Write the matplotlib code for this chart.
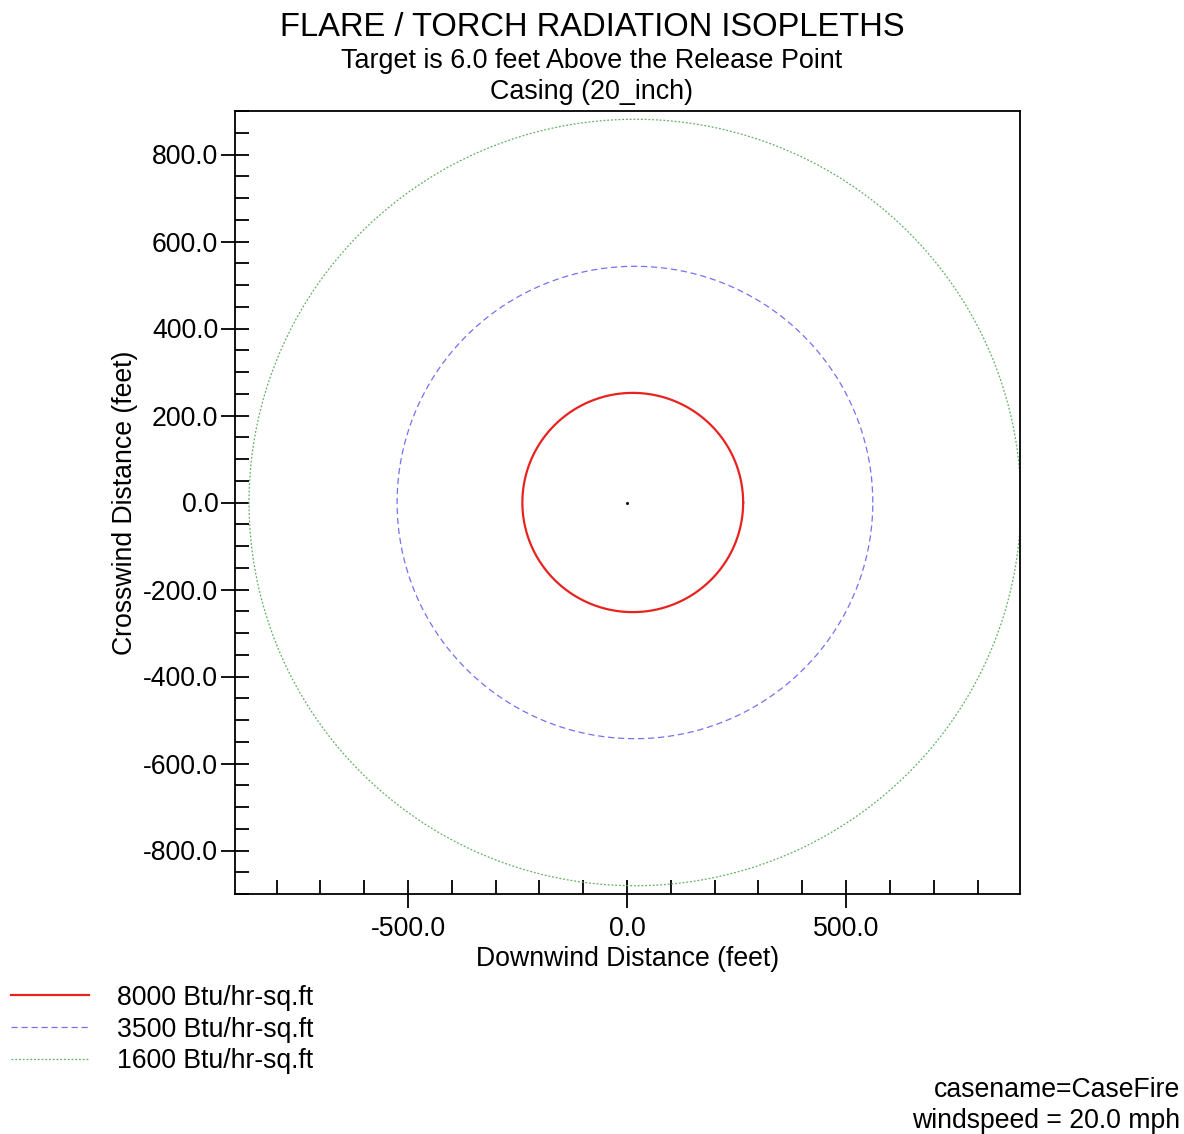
import numpy as np
import matplotlib
matplotlib.use('Agg')
import matplotlib.pyplot as plt
from matplotlib.ticker import MultipleLocator, FixedLocator, FormatStrFormatter

plt.rcParams['font.family'] = ['Liberation Sans', 'DejaVu Sans']
plt.rcParams['axes.unicode_minus'] = False

# Isopleth data (feet)
levels = ['8000 Btu/hr-sq.ft', '3500 Btu/hr-sq.ft', '1600 Btu/hr-sq.ft']
center_x = [13, 18, 18]
radius = [252, 543, 881]
colors = ['#e8231f', '#7373f0', '#62b062']
styles = ['-', (0, (5, 3)), (0, (1.5, 1.5))]
widths = [1.6, 0.9, 0.9]

fig = plt.figure(figsize=(11.84, 11.34), dpi=100)
ax = fig.add_axes([235 / 1184, 1 - 894 / 1134, 785 / 1184, 783 / 1134])

theta = np.linspace(0, 2 * np.pi, 721)
for lab, cx, r, c, ls, lw in zip(levels, center_x, radius, colors, styles, widths):
    ax.plot(cx + r * np.cos(theta), r * np.sin(theta), color=c, linestyle=ls, lw=lw, label=lab)

# release point
ax.plot([0], [0], marker='s', ms=1.0, color='black', ls='none')

ax.set_xlim(-895, 897)
ax.set_ylim(-900, 900)

ax.xaxis.set_major_locator(FixedLocator([-500, 0, 500]))
ax.xaxis.set_minor_locator(MultipleLocator(100))
ax.yaxis.set_major_locator(MultipleLocator(200))
ax.yaxis.set_minor_locator(MultipleLocator(50))
ax.xaxis.set_major_formatter(FormatStrFormatter('%.1f'))
ax.yaxis.set_major_formatter(FormatStrFormatter('%.1f'))

ax.tick_params(which='major', direction='inout', length=20, width=1.3, labelsize=19.2)
ax.tick_params(axis='x', which='major', pad=6)
ax.tick_params(axis='y', which='major', pad=2)
ax.tick_params(which='minor', direction='in', length=10, width=1.3)
ax.tick_params(top=False, right=False, which='both')
for s in ax.spines.values():
    s.set_linewidth(1.3)

ax.set_xlabel('Downwind Distance (feet)', fontsize=19.2, labelpad=3)
ax.set_ylabel('Crosswind Distance (feet)', fontsize=19.2, labelpad=4)

fig.text(0.5, 1 - 27 / 1134, 'FLARE / TORCH RADIATION ISOPLETHS', ha='center', va='center', fontsize=23.6)
fig.text(0.5, 1 - 61 / 1134, 'Target is 6.0 feet Above the Release Point', ha='center', va='center', fontsize=19.4)
fig.text(0.5, 1 - 92 / 1134, 'Casing (20_inch)', ha='center', va='center', fontsize=19.4)

fig.legend(loc='upper left', bbox_to_anchor=(0.0, 1 - 974 / 1134), frameon=False,
           fontsize=19.2, handlelength=2.95, handletextpad=1.05, labelspacing=0.22,
           borderaxespad=0, borderpad=0.4)

fig.text(1180 / 1184, 1 - 1090 / 1134, 'casename=CaseFire', ha='right', va='center', fontsize=19.2)
fig.text(1180 / 1184, 1 - 1121 / 1134, 'windspeed = 20.0 mph', ha='right', va='center', fontsize=19.2)

fig.savefig('out.png', dpi=100)
